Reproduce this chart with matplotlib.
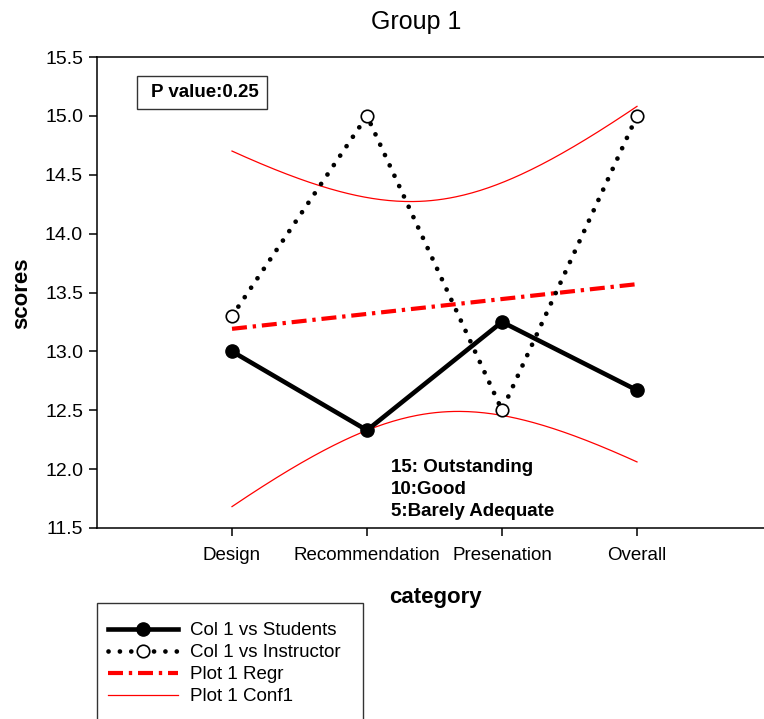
import numpy as np
import matplotlib
matplotlib.use("Agg")
import matplotlib.pyplot as plt
from matplotlib.lines import Line2D
from matplotlib.patches import Rectangle

plt.rcParams['font.family'] = ['Liberation Sans', 'DejaVu Sans']

categories = ["Design", "Recommendation", "Presenation", "Overall"]
students = [13.0, 12.33, 13.25, 12.67]
instructor = [13.3, 15.0, 12.5, 15.0]
y_ticks = [11.5, 12.0, 12.5, 13.0, 13.5, 14.0, 14.5, 15.0, 15.5]
p_value_label = "P value:0.25"
scale_note = "15: Outstanding\n10:Good\n5:Barely Adequate"
conf_t = 2.262

xpos = np.arange(1, len(categories) + 1)

# linear fit over both series with its confidence band
x_all = np.concatenate([xpos, xpos]).astype(float)
y_all = np.concatenate([students, instructor])
slope, intercept = np.polyfit(x_all, y_all, 1)
n = len(x_all)
resid = y_all - (slope * x_all + intercept)
s = np.sqrt(np.sum(resid ** 2) / (n - 2))
xbar = x_all.mean()
sxx = np.sum((x_all - xbar) ** 2)
xs = np.linspace(xpos[0], xpos[-1], 200)
fit = slope * xs + intercept
half = conf_t * s * np.sqrt(1.0 / n + (xs - xbar) ** 2 / sxx)

dot_style = (0, (0.01, 2.4))
regr_style = (0, (3.6, 1.4, 0.8, 1.4))

W, H = 764, 719
fig = plt.figure(figsize=(W / 100, H / 100), dpi=100)
ax = fig.add_axes([97 / W, 1 - 528 / H, 675 / W, 471 / H])

ax.plot(xs, fit + half, color='red', lw=0.9, zorder=2)
ax.plot(xs, fit - half, color='red', lw=0.9, zorder=2)
ax.plot(xs, fit, color='red', lw=3.0, linestyle=regr_style, zorder=3)
ax.plot(xpos, students, color='black', lw=3.3, marker='o', markersize=9.5,
        markerfacecolor='black', markeredgecolor='black', zorder=4)
ax.plot(xpos, instructor, color='black', lw=3.4, linestyle=dot_style,
        dash_capstyle='round', marker='o', markersize=9,
        markerfacecolor='white', markeredgecolor='black', markeredgewidth=1.2, zorder=5)

ax.set_xlim(0, 5)
ax.set_ylim(11.5, 15.5)
ax.set_xticks(xpos)
ax.set_xticklabels(categories)
ax.set_yticks(y_ticks)
ax.set_yticklabels([f"{v:.1f}" for v in y_ticks])
ax.tick_params(axis='both', direction='out', length=6, width=1.1, color='black')
ax.tick_params(axis='x', pad=7.5, labelsize=13.5)
ax.tick_params(axis='y', pad=4, labelsize=14)
for side in ['left', 'bottom', 'top']:
    ax.spines[side].set_linewidth(1.1)
    ax.spines[side].set_color('black')
ax.spines['right'].set_visible(False)

# p-value box
ax.add_patch(Rectangle(((137 - 97) / 675, (528 - 109) / 471), 130 / 675, 33 / 471,
                       transform=ax.transAxes, fill=False, edgecolor='#333333', lw=1.0))
ax.text((204.5 - 97) / 675, (528 - 92.5) / 471, p_value_label, transform=ax.transAxes,
        ha='center', va='center', fontsize=13.5, fontweight='bold')

ax.text((391 - 97) / 675, (528 - 459) / 471, scale_note, transform=ax.transAxes,
        ha='left', va='top', fontsize=13.5, fontweight='bold', linespacing=1.38)

fig.text(416 / W, 1 - 22 / H, "Group 1", ha='center', va='center', fontsize=18)
fig.text(22 / W, 1 - 293 / H, "scores", ha='center', va='center', rotation=90,
         fontsize=16, fontweight='bold')
fig.text(435 / W, 1 - 597 / H, "category", ha='center', va='center',
         fontsize=16, fontweight='bold')

# legend frame runs past the bottom edge of the figure
fig.patches.append(Rectangle((97 / W, -0.05), (363 - 97) / W, (1 - 603 / H) + 0.05,
                             transform=fig.transFigure, fill=False,
                             edgecolor='#333333', lw=1.0))

handles = [
    Line2D([], [], color='black', lw=3.3, marker='o', markersize=9.5),
    Line2D([], [], color='black', lw=3.4, linestyle=dot_style, dash_capstyle='round',
           marker='o', markersize=9, markerfacecolor='white', markeredgewidth=1.2),
    Line2D([], [], color='red', lw=3.0, linestyle=regr_style),
    Line2D([], [], color='red', lw=0.9),
]
labels = ["Col 1 vs Students", "Col 1 vs Instructor", "Plot 1 Regr", "Plot 1 Conf1"]
leg = fig.legend(handles, labels, loc='upper left', bbox_to_anchor=(108 / W, 1 - 622 / H),
                 fontsize=13.5, numpoints=1, handlelength=3.75, handletextpad=0.6,
                 labelspacing=0.26, borderpad=0, frameon=False, borderaxespad=0)

fig.savefig("out.png", dpi=100)
